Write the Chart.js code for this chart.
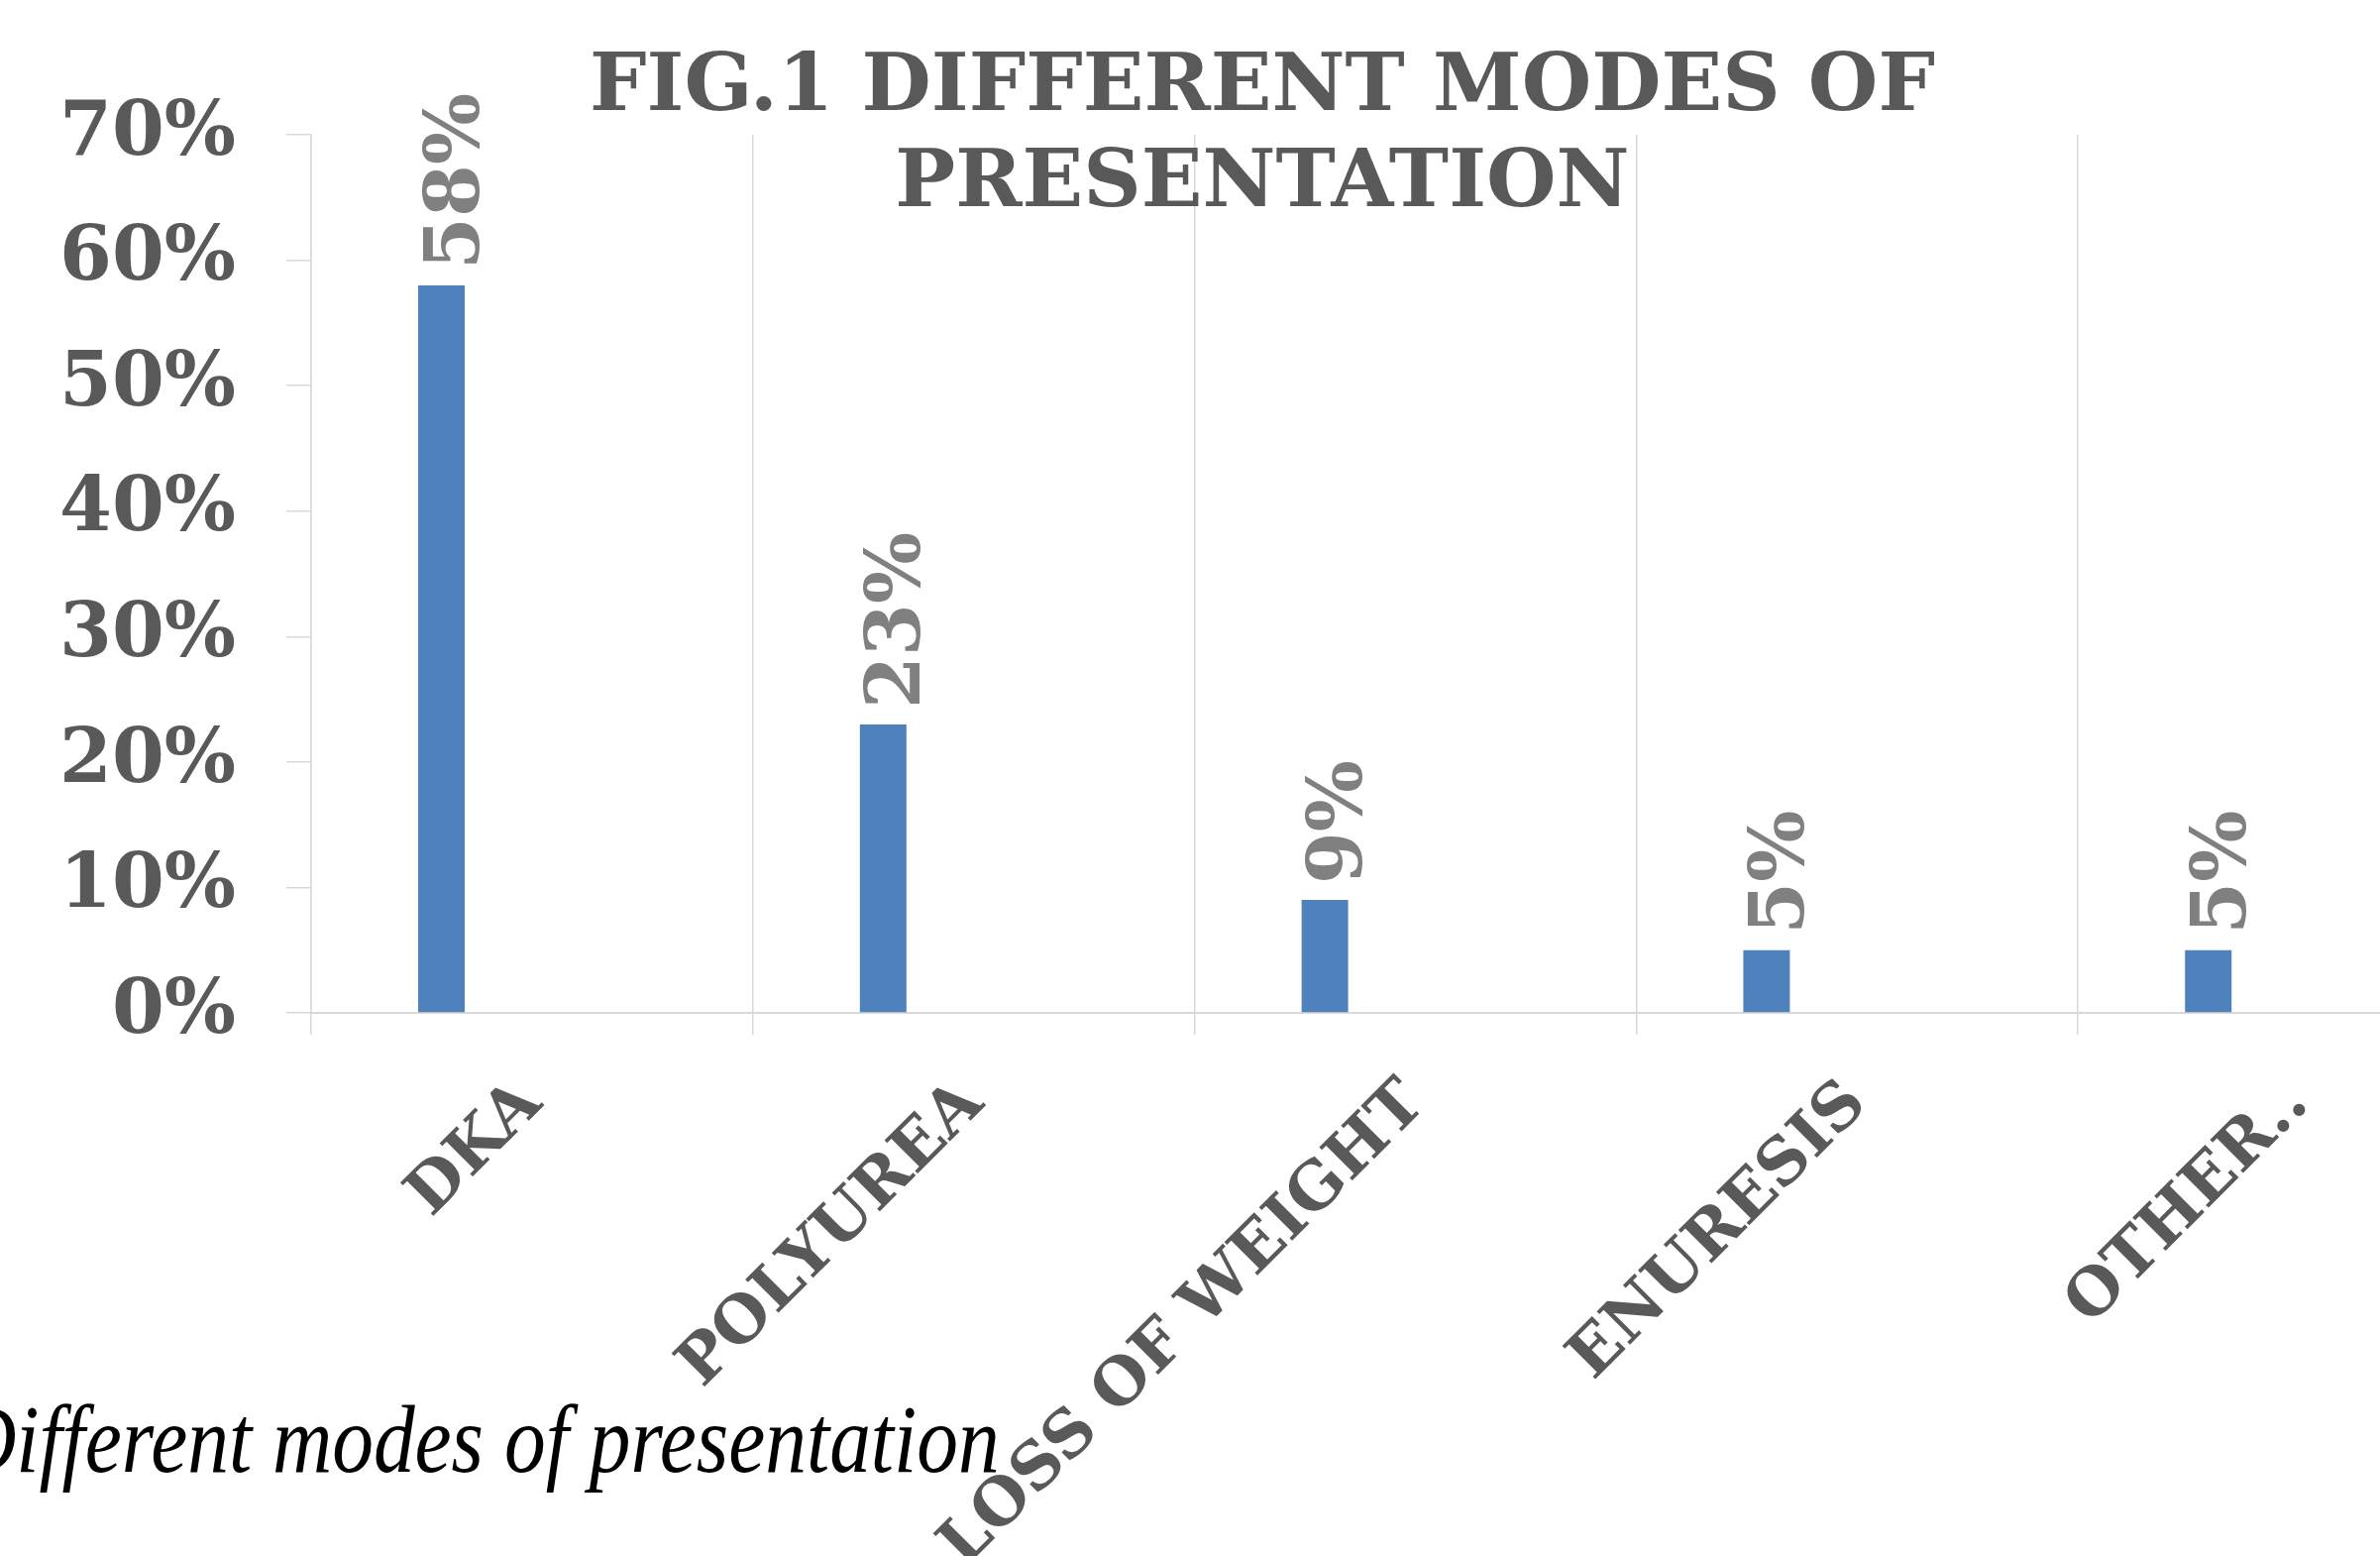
<!DOCTYPE html>
<html>
<head>
<meta charset="utf-8">
<script src="https://cdn.jsdelivr.net/npm/chart.js@4/dist/chart.umd.min.js"></script>
<style>
  html, body { margin: 0; padding: 0; background: #ffffff; overflow: hidden; }
  #frame { position: relative; width: 2402px; height: 1570px; overflow: hidden; background: #ffffff; }
  #wrap { position: absolute; left: 0; top: 0; width: 2548px; height: 1700px; }
  #caption {
    position: absolute; left: -44px; top: 1404px;
    font-family: "Liberation Serif", serif; font-style: italic;
    font-size: 97px; color: #000000; white-space: nowrap; line-height: 1;
    transform: scaleX(0.86); transform-origin: 0 0;
  }
</style>
</head>
<body>
<div id="frame">
  <div id="wrap"><canvas id="chart"></canvas></div>
  <div id="caption">Different modes of presentation</div>
</div>
<script>
// Presentation modes and share of patients (%)
const categories = ['DKA', 'POLYUREA', 'LOSS OF WEIGHT', 'ENURESIS', 'OTHER..'];
const shares = [58, 23, 9, 5, 5];
// Empty second series: keeps each bar in the left half of its category group
const emptySeries = [null, null, null, null, null];
const yTicks = [0, 10, 20, 30, 40, 50, 60, 70];
const titleLines = ['FIG.1 DIFFERENT MODES OF', 'PRESENTATION'];

const SERIF = '"DejaVu Serif", serif';
const DARK = '#595959';
const GRID = '#d9d9d9';

// Vertical value labels above each bar
const barValueLabels = {
  id: 'barValueLabels',
  afterDatasetsDraw(chart) {
    const meta = chart.getDatasetMeta(0);
    const ctx = chart.ctx;
    ctx.save();
    ctx.font = 'bold 76px ' + SERIF;
    ctx.fillStyle = '#808080';
    ctx.textAlign = 'left';
    ctx.textBaseline = 'alphabetic';
    meta.data.forEach((bar, i) => {
      const v = chart.data.datasets[0].data[i];
      ctx.save();
      ctx.translate(bar.x + 37, bar.y - 16);
      ctx.rotate(-Math.PI / 2);
      ctx.fillText(v + '%', 0, 0);
      ctx.restore();
    });
    ctx.restore();
  }
};

// Two-line chart heading, centred on the canvas
const heading = {
  id: 'heading',
  afterDraw(chart) {
    const ctx = chart.ctx;
    ctx.save();
    ctx.font = 'bold 81px ' + SERIF;
    ctx.fillStyle = DARK;
    ctx.textAlign = 'center';
    ctx.textBaseline = 'alphabetic';
    const cx = chart.width / 2;
    ctx.fillText(titleLines[0], cx, 111);
    ctx.fillText(titleLines[1], cx, 208);
    ctx.restore();
  }
};

new Chart(document.getElementById('chart'), {
  type: 'bar',
  data: {
    labels: categories,
    datasets: [
      {
        label: 'Share',
        data: shares,
        backgroundColor: '#4f81bd',
        borderWidth: 0,
        categoryPercentage: 0.82,
        barPercentage: 0.257
      },
      {
        label: '',
        data: emptySeries,
        backgroundColor: '#4f81bd',
        categoryPercentage: 0.82,
        barPercentage: 0.257
      }
    ]
  },
  options: {
    responsive: true,
    maintainAspectRatio: false,
    animation: false,
    layout: { padding: { top: 136, right: 5, bottom: 0, left: 0 } },
    plugins: {
      legend: { display: false },
      title: { display: false },
      tooltip: { enabled: false }
    },
    scales: {
      x: {
        offset: true,
        grid: {
          offset: true,
          drawOnChartArea: true,
          color: GRID,
          lineWidth: 1.5,
          tickLength: 22
        },
        border: { display: true, color: GRID, width: 2 },
        ticks: {
          autoSkip: false,
          minRotation: 45,
          maxRotation: 45,
          padding: 32,
          color: DARK,
          font: { family: SERIF, size: 65, weight: 'bold' }
        },
        afterFit(axis) { axis.height = 1700 - 1022; }
      },
      y: {
        min: yTicks[0],
        max: yTicks[yTicks.length - 1],
        afterBuildTicks(axis) { axis.ticks = yTicks.map(v => ({ value: v })); },
        grid: {
          drawOnChartArea: false,
          drawTicks: true,
          tickLength: 25,
          color: GRID,
          lineWidth: 1.5
        },
        border: { display: true, color: GRID, width: 1.5 },
        ticks: {
          padding: 51,
          color: DARK,
          font: { family: SERIF, size: 76, weight: 'bold' },
          callback: (v) => v + '%'
        },
        afterFit(axis) { axis.width = 314; }
      }
    }
  },
  plugins: [barValueLabels, heading]
});
</script>
</body>
</html>
